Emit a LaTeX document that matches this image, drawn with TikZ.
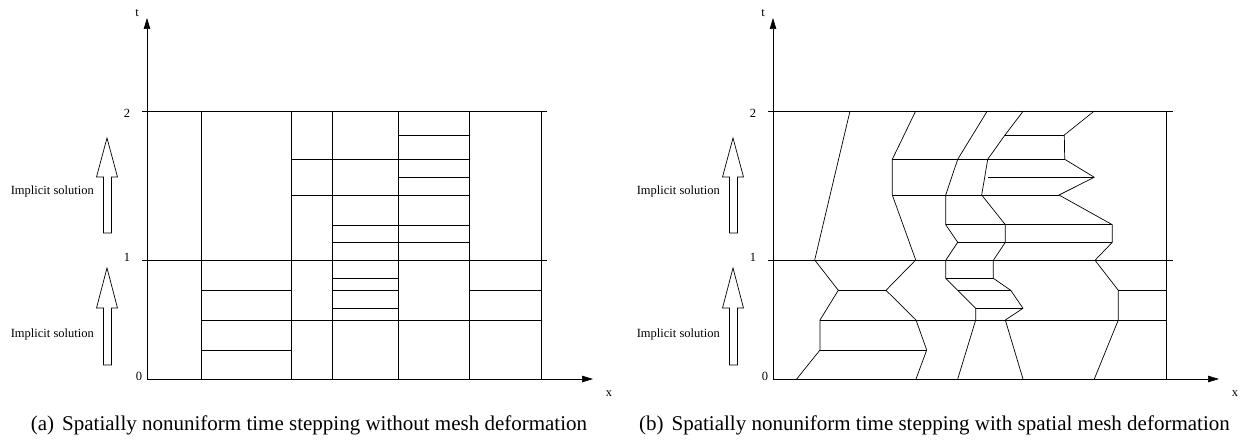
\documentclass[tikz,border=0pt]{standalone}
\usepackage{fontspec}
\setmainfont{Liberation Serif}
\usetikzlibrary{arrows.meta}
\newcommand{\panelcommon}[1]{%
  % axes
  \coordinate (o#1) at (147,379);
  \coordinate (xe#1) at (593,379);
  \coordinate (te#1) at (147,18);
  \draw[axis] (o#1) -- (xe#1);
  \draw[axis] (o#1) -- (te#1);
  \node[lbl] (tl#1) at (137,12.7) {t};
  \node[lbl] (xl#1) at (609,394) {x};
  \node[lbl] (n2#1) at (127,113.5) {2};
  \node[lbl] (n1#1) at (127,257.5) {1};
  \node[lbl] (n0#1) at (139,376.5) {0};
  % level lines t=1, t=2
  \draw[mesh] (142,111) -- (547,111);
  \draw[mesh] (142,260) -- (547,260);
  % block arrows
  \draw[blockarrow] (107,138) -- (117.5,177) -- (111.5,177) -- (111.5,233) -- (103.5,233) -- (103.5,177) -- (96.5,177) -- cycle;
  \draw[blockarrow] (107,268) -- (117.5,308) -- (111.5,308) -- (111.5,365) -- (103.5,365) -- (103.5,308) -- (96.5,308) -- cycle;
  \node[lbl, anchor=east] (is1#1) at (94,191) {Implicit solution};
  \node[lbl, anchor=east] (is2#1) at (94,334) {Implicit solution};
}
\begin{document}
\begin{tikzpicture}[x=1pt,y=-1pt,
  mesh/.style={line width=0.7pt, line join=round},
  axis/.style={line width=0.7pt, -{Triangle[length=11pt,width=6.5pt]}},
  lbl/.style={font=\fontsize{12.5}{14}\selectfont, inner sep=0pt},
  captext/.style={font=\fontsize{21}{24}\selectfont, inner sep=0pt, anchor=base},
  blockarrow/.style={draw, line width=0.7pt, fill=white, line join=miter}]
\useasboundingbox (0,0) rectangle (1247,441);

% ---------- panel (a) ----------
\panelcommon{a}
\foreach \x in {201,291,332,398,469,541} \draw[mesh] (\x,111) -- (\x,379);
\draw[mesh] (201,350) -- (291,350);
\draw[mesh] (201,320) -- (541,320);
\draw[mesh] (201,290) -- (291,290);
\draw[mesh] (332,290) -- (398,290);
\draw[mesh] (469,290) -- (541,290);
\draw[mesh] (332,308) -- (398,308);
\draw[mesh] (332,278) -- (398,278);
\draw[mesh] (332,242) -- (469,242);
\draw[mesh] (332,225) -- (469,225);
\draw[mesh] (291,195) -- (469,195);
\draw[mesh] (398,177) -- (469,177);
\draw[mesh] (291,159) -- (469,159);
\draw[mesh] (398,135) -- (469,135);
\node[captext] (capa) at (309,430) {(a)\hspace{8pt}Spatially nonuniform time stepping without mesh deformation};

% ---------- panel (b) ----------
\begin{scope}[xshift=626pt]
\panelcommon{b}
\end{scope}
\draw[mesh] (1166,111) -- (1166,379);
\draw[mesh] (796.7,379) -- (820,350) -- (820,320) -- (838.3,290.3) -- (814.7,260) -- (850,111);
\draw[mesh] (916,379) -- (926.7,350) -- (916,320) -- (886,290.3) -- (915.7,260) -- (892.3,195) -- (892.3,159.3) -- (915.7,111);
\draw[mesh] (957.7,379) -- (975.7,320) -- (975.7,308.3) -- (957.7,290.3) -- (945.7,278.3) -- (945.7,260.3) -- (957.7,242.3) -- (945.7,224.7) -- (945.7,195) -- (957.7,159.3) -- (987.3,111);
\draw[mesh] (1023,379) -- (1005.3,320) -- (1023,308.3) -- (1010.7,290.3) -- (993.3,278.3) -- (993.3,260.3) -- (1005.3,242.3) -- (1005.3,224.7) -- (981.7,195) -- (987.7,159.3) -- (1005,135) -- (1023.3,111);
\draw[mesh] (1094.3,379) -- (1118.3,320) -- (1118.3,290.3) -- (1095,260.3) -- (1112.3,242.3) -- (1112.3,224.7) -- (1059,195) -- (1094.3,177.3) -- (1064.7,159.3) -- (1064.3,135) -- (1094.3,111);
\draw[mesh] (820,350) -- (926.7,350);
\draw[mesh] (820,320) -- (1166,320);
\draw[mesh] (838.3,290.3) -- (886,290.3);
\draw[mesh] (957.7,290.3) -- (1010.7,290.3);
\draw[mesh] (1118.3,290.3) -- (1166,290.3);
\draw[mesh] (975.7,308.3) -- (1023,308.3);
\draw[mesh] (945.7,278.3) -- (993.3,278.3);
\draw[mesh] (957.7,242.3) -- (1112.3,242.3);
\draw[mesh] (945.7,224.7) -- (1112.3,224.7);
\draw[mesh] (892.3,195) -- (1059,195);
\draw[mesh] (987.7,177.3) -- (1094.3,177.3);
\draw[mesh] (892.3,159.3) -- (1064.7,159.3);
\draw[mesh] (1005,135) -- (1064.3,135);
\node[captext] (capb) at (934.5,430) {(b)\hspace{8pt}Spatially nonuniform time stepping with spatial mesh deformation};
\end{tikzpicture}
\end{document}
